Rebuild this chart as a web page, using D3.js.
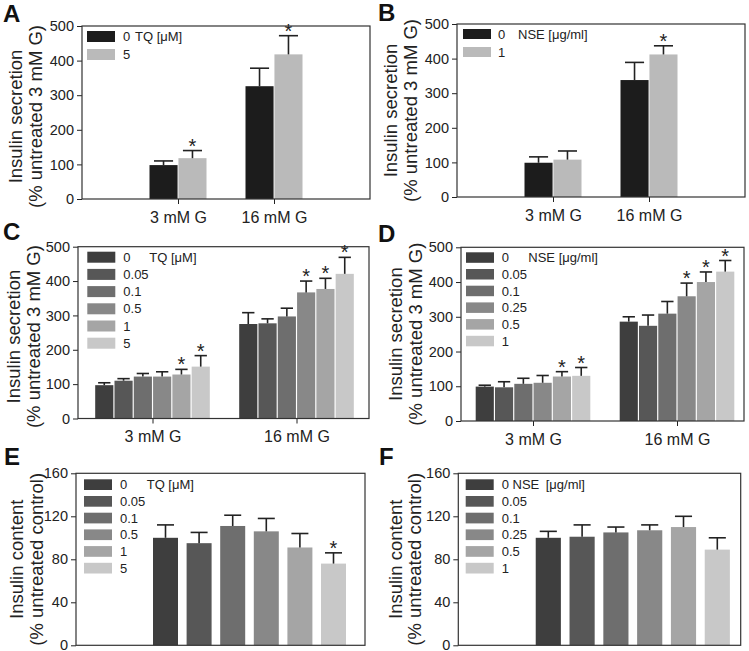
<!DOCTYPE html>
<html>
<head>
<meta charset="utf-8">
<script src="https://cdn.jsdelivr.net/npm/d3@7/dist/d3.min.js"></script>
<style>
  html, body { margin: 0; padding: 0; background: #fff; }
  svg { display: block; font-family: "Liberation Sans", Arial, Helvetica, sans-serif; }
</style>
</head>
<body>
<svg id="chart" width="749" height="651"></svg>
<script>
// ---------------- DATA ----------------
const groupLabels = ["3 mM G", "16 mM G"];
const secretionTicks = [0, 100, 200, 300, 400, 500];
const contentTicks = [0, 40, 80, 120, 160];
const secretionTitle = ["Insulin secretion", "(% untreated 3 mM G)"];
const contentTitle = ["Insulin content", "(% untreated control)"];

// Panel A: TQ [µM] 0 and 5 ; means per group (rows) per dose (cols)
const tqDosesA = ["0", "5"];
const meansA = [[98, 118], [326, 418]];
const sdA = [[12, 22], [52, 54]];
const starsA = [[false, true], [false, true]];

// Panel B: NSE [µg/ml] 0 and 1
const nseDosesB = ["0", "1"];
const meansB = [[99, 108], [338, 412]];
const sdB = [[17, 25], [51, 25]];
const starsB = [[false, false], [false, true]];

// Panel C: TQ doses
const tqDoses = ["0", "0.05", "0.1", "0.5", "1", "5"];
const meansC = [[97, 110, 122, 122, 128, 151], [275, 277, 297, 367, 377, 421]];
const sdC = [[7, 6, 9, 14, 15, 32], [33, 13, 24, 33, 31, 48]];
const starsC = [[false, false, false, false, true, true], [false, false, false, true, true, true]];

// Panel D: NSE doses
const nseDoses = ["0", "0.05", "0.1", "0.25", "0.5", "1"];
const meansD = [[99, 97, 107, 110, 128, 130], [286, 274, 309, 359, 400, 430]];
const sdD = [[4, 16, 16, 21, 14, 24], [14, 31, 35, 38, 29, 32]];
const starsD = [[false, false, false, false, true, true], [false, false, false, true, true, true]];

// Panel E: insulin content, TQ
const meansE = [100, 95, 111, 106, 91, 76];
const sdE = [12, 10, 10, 12, 13, 10];
const starsE = [false, false, false, false, false, true];

// Panel F: insulin content, NSE
const meansF = [100, 101, 105, 107, 110, 89];
const sdF = [6, 11, 5, 5, 10, 11];
const starsF = [false, false, false, false, false, false];

// colours
const twoColors = ["#1c1c1c", "#bababa"];
const sixColors = ["#3e3e3e", "#575757", "#6e6e6e", "#888888", "#a5a5a5", "#c8c8c8"];

// ---------------- DRAW ----------------
const svg = d3.select("#chart");
const INK = "#222";

function drawPanel(cfg) {
  const g = svg.append("g");
  const y = d3.scaleLinear().domain([0, cfg.ymax]).range([cfg.y1, cfg.y0]);

  // panel letter
  g.append("text").attr("x", cfg.letter[1]).attr("y", cfg.letter[2])
    .attr("font-size", 24).attr("font-weight", "bold").attr("fill", "#111")
    .text(cfg.letter[0]);

  // y title (two rotated lines)
  const cy = (cfg.y0 + cfg.y1) / 2 + (cfg.titleShift || 0);
  cfg.title.forEach((t, i) => {
    g.append("text")
      .attr("transform", `translate(${cfg.titleX[i]},${cy}) rotate(-90)`)
      .attr("text-anchor", "middle").attr("font-size", 18.5).attr("fill", INK)
      .text(t);
  });

  // bars
  const barsG = g.append("g");
  let barList = [];
  if (cfg.grouped) {
    const gx = d3.scalePoint().domain(groupLabels).range(cfg.gRange).padding(cfg.gPad);
    const inner = d3.scaleBand().domain(d3.range(cfg.series.length))
      .range([-cfg.groupW / 2, cfg.groupW / 2]).paddingInner(cfg.innerPad);
    groupLabels.forEach((gl, gi) => {
      cfg.series.forEach((s, si) => {
        barList.push({
          x: gx(gl) + inner(si), w: inner.bandwidth(),
          v: cfg.means[gi][si], sd: cfg.sd[gi][si], star: cfg.stars[gi][si],
          color: cfg.colors[si]
        });
      });
    });
    // bottom axis with group ticks
    const ax = d3.axisBottom(gx).tickSize(5).tickPadding(7.5).tickSizeOuter(0);
    const axG = g.append("g").attr("transform", `translate(0,${cfg.y1})`).call(ax);
    axG.select(".domain").remove();
    axG.selectAll("line").attr("stroke", INK);
    axG.selectAll("text").attr("font-size", 16).attr("fill", INK)
      .attr("font-family", "'Liberation Sans', Arial, sans-serif");
  } else {
    const bx = d3.scaleBand().domain(d3.range(cfg.series.length))
      .range(cfg.bRange).paddingInner(0.256).paddingOuter(0.128);
    cfg.series.forEach((s, si) => {
      barList.push({
        x: bx(si), w: bx.bandwidth(), v: cfg.means[si], sd: cfg.sd[si],
        star: cfg.stars[si], color: cfg.colors[si]
      });
    });
  }

  barList.forEach(b => {
    barsG.append("rect").attr("x", b.x).attr("width", b.w)
      .attr("y", y(b.v)).attr("height", y(0) - y(b.v)).attr("fill", b.color);
  });
  barList.forEach(b => {
    const cx = b.x + b.w / 2;
    const top = y(b.v + b.sd);
    const cap = b.w * 0.34;
    barsG.append("line").attr("x1", cx).attr("x2", cx).attr("y1", y(b.v)).attr("y2", top)
      .attr("stroke", INK).attr("stroke-width", 1.6);
    barsG.append("line").attr("x1", cx - cap).attr("x2", cx + cap).attr("y1", top).attr("y2", top)
      .attr("stroke", INK).attr("stroke-width", 1.6);
    if (b.star) {
      barsG.append("text").attr("x", cx).attr("y", top + 2)
        .attr("text-anchor", "middle").attr("font-size", 20).attr("fill", INK).text("*");
    }
  });

  // left axis
  const ay = d3.axisLeft(y).tickValues(cfg.ticks).tickSize(5).tickPadding(3).tickSizeOuter(0);
  const ayG = g.append("g").attr("transform", `translate(${cfg.x0},0)`).call(ay);
  ayG.select(".domain").remove();
  ayG.selectAll("line").attr("stroke", INK);
  ayG.selectAll("text").attr("font-size", 14.5).attr("fill", INK)
    .attr("font-family", "'Liberation Sans', Arial, sans-serif");

  // frame
  g.append("rect").attr("x", cfg.x0).attr("y", cfg.y0)
    .attr("width", cfg.x1 - cfg.x0).attr("height", cfg.y1 - cfg.y0)
    .attr("fill", "none").attr("stroke", "#333").attr("stroke-width", 1.2);

  // legend
  const L = cfg.legend;
  cfg.series.forEach((s, si) => {
    const ty = L.y + si * L.step;
    g.append("rect").attr("x", L.x).attr("y", ty).attr("width", 28).attr("height", L.h)
      .attr("fill", cfg.colors[si]);
    g.append("text").attr("x", L.tx).attr("y", ty + L.h / 2).attr("dy", "0.36em")
      .attr("font-size", 13).attr("fill", INK)
      .text(si === 0 && L.first ? L.first : s);
  });
  g.append("text").attr("x", L.ux).attr("y", L.y + L.h / 2).attr("dy", "0.36em")
    .attr("font-size", 13).attr("fill", INK).text(L.unit);
}

drawPanel({
  letter: ["A", 3, 21.5], x0: 82, x1: 370, y0: 26, y1: 199, ymax: 500, ticks: secretionTicks,
  title: secretionTitle, titleX: [22, 42], titleShift: 4,
  grouped: true, gRange: [82, 370], gPad: 1, groupW: 57, innerPad: 0.03,
  series: tqDosesA, means: meansA, sd: sdA, stars: starsA, colors: twoColors,
  legend: { x: 87, y: 31, step: 18, h: 11, tx: 123, ux: 135, unit: "TQ [μM]" }
});
drawPanel({
  letter: ["B", 378, 21], x0: 457, x1: 745, y0: 24, y1: 197, ymax: 500, ticks: secretionTicks,
  title: secretionTitle, titleX: [397, 417],
  grouped: true, gRange: [457, 745], gPad: 1, groupW: 57, innerPad: 0.03,
  series: nseDosesB, means: meansB, sd: sdB, stars: starsB, colors: twoColors,
  legend: { x: 463, y: 29, step: 18, h: 10, tx: 498, ux: 518, unit: "NSE [μg/ml]" }
});
drawPanel({
  letter: ["C", 3, 240], x0: 78, x1: 369, y0: 246.7, y1: 418.5, ymax: 500, ticks: secretionTicks,
  title: secretionTitle, titleX: [20, 40], titleShift: 4,
  grouped: true, gRange: [80.5, 368.5], gPad: 0.5, groupW: 114.6, innerPad: 0.06,
  series: tqDoses, means: meansC, sd: sdC, stars: starsC, colors: sixColors,
  legend: { x: 87.3, y: 251.7, step: 17.2, h: 11, tx: 123.3, ux: 149.3, unit: "TQ [μM]" }
});
drawPanel({
  letter: ["D", 378, 242], x0: 461, x1: 744, y0: 247.3, y1: 421, ymax: 500, ticks: secretionTicks,
  title: secretionTitle, titleX: [401.5, 421.5],
  grouped: true, gRange: [461, 749], gPad: 0.5, groupW: 114.6, innerPad: 0.06,
  series: nseDoses, means: meansD, sd: sdD, stars: starsD, colors: sixColors,
  legend: { x: 466, y: 252.3, step: 16.7, h: 10.5, tx: 501.7, ux: 528.3, unit: "NSE [μg/ml]" }
});
drawPanel({
  letter: ["E", 4, 465], x0: 76, x1: 365, y0: 473.3, y1: 645.3, ymax: 160, ticks: contentTicks,
  title: contentTitle, titleX: [23, 43],
  grouped: false, bRange: [148.7, 350.3],
  series: tqDoses, means: meansE, sd: sdE, stars: starsE, colors: sixColors,
  legend: { x: 84, y: 479.3, step: 16.7, h: 10.7, tx: 120, ux: 146.7, unit: "TQ [μM]" }
});
drawPanel({
  letter: ["F", 379, 465], x0: 458.3, x1: 740.7, y0: 473.3, y1: 645.3, ymax: 160, ticks: contentTicks,
  title: contentTitle, titleX: [401.5, 421],
  grouped: false, bRange: [531.4, 734.2],
  series: nseDoses, means: meansF, sd: sdF, stars: starsF, colors: sixColors,
  legend: { x: 465.7, y: 479.3, step: 16.7, h: 10.7, tx: 501.7, ux: 545.7, unit: "[μg/ml]", first: "0 NSE" }
});
</script>
</body>
</html>
